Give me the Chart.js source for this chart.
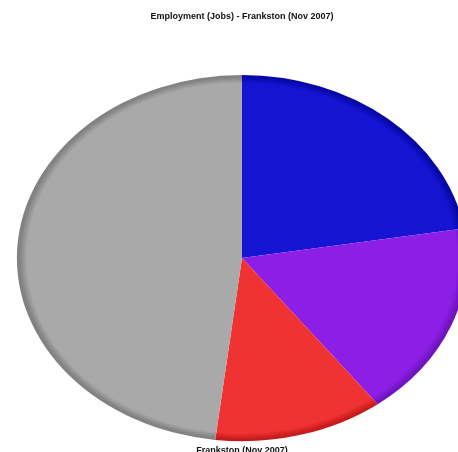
<!DOCTYPE html>
<html>
<head>
<meta charset="utf-8">
<script src="https://cdn.jsdelivr.net/npm/chart.js@4"></script>
<style>
  html,body{margin:0;padding:0;background:#fff;}
  #wrap{width:458px;height:452px;}
</style>
</head>
<body>
<div id="wrap"><canvas id="pie" width="458" height="452"></canvas></div>
<script>
/* === DATA === */
const chartTitle = "Employment (Jobs) - Frankston (Nov 2007)";
const seriesName = "Frankston (Nov 2007)";
const categories = ["Segment 1", "Segment 2", "Segment 3", "Segment 4"];
const shares = [22.4, 17.3, 12.2, 48.1];
const baseColors = ["#1414d2", "#8c1ee6", "#f03232", "#a9a9a9"];
const rimColors = ["#0808a8", "#7014c0", "#c81c1c", "#828282"];

/* pie is drawn as an ellipse: wider than tall */
const xStretch = 225 / 183;

/* radial shading so slices look domed like the original */
function shade(c){
  const chart = c.chart, i = c.dataIndex;
  const area = chart.chartArea;
  if(!area) return baseColors[i];
  const cx = (area.left + area.right) / 2, cy = (area.top + area.bottom) / 2;
  const r = Math.min(area.right - area.left, area.bottom - area.top) / 2;
  const g = chart.ctx.createRadialGradient(cx, cy, 0, cx, cy, r);
  g.addColorStop(0, baseColors[i]);
  g.addColorStop(0.955, baseColors[i]);
  g.addColorStop(0.988, rimColors[i]);
  g.addColorStop(1, rimColors[i]);
  return g;
}

const squash = {
  id: "squash",
  beforeDatasetsDraw(chart){
    const a = chart.getDatasetMeta(0).data[0];
    const ctx = chart.ctx;
    ctx.save();
    ctx.translate(a.x, a.y);
    ctx.scale(xStretch, 1);
    ctx.translate(-a.x, -a.y);
  },
  afterDatasetsDraw(chart){ chart.ctx.restore(); }
};

new Chart(document.getElementById("pie"), {
  type: "pie",
  data: {
    labels: categories,
    datasets: [{
      label: seriesName,
      data: shares,
      backgroundColor: shade,
      borderWidth: 0,
      clip: false
    }]
  },
  options: {
    responsive: false,
    animation: false,
    layout: { padding: { left: 26, right: 0, top: 0, bottom: 0 } },
    plugins: {
      legend: { display: false },
      tooltip: { enabled: false },
      title: {
        display: true,
        text: chartTitle,
        color: "#111",
        font: { family: "Liberation Sans", size: 9, weight: "bold" },
        padding: { top: 11, bottom: 53.2 }
      },
      subtitle: {
        display: true,
        text: seriesName,
        position: "bottom",
        color: "#111",
        font: { family: "Liberation Sans", size: 9, weight: "bold" },
        padding: { top: 4, bottom: -4 }
      }
    }
  },
  plugins: [squash]
});
</script>
</body>
</html>
